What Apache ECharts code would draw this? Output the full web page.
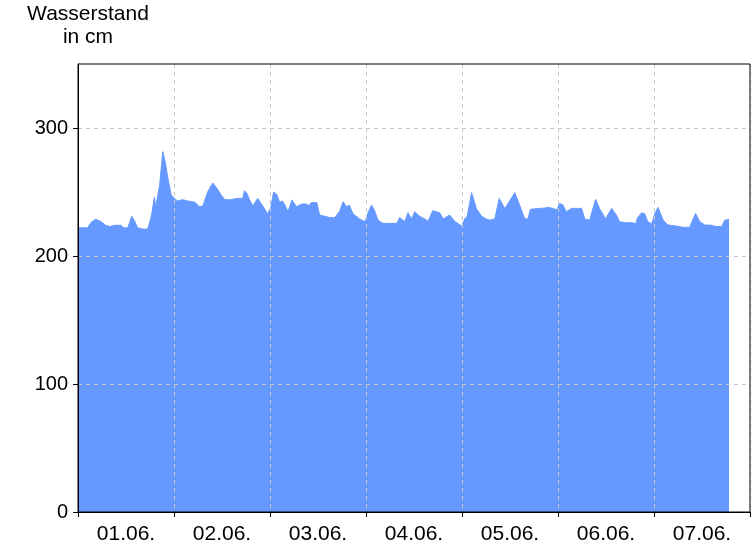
<!DOCTYPE html>
<html>
<head>
<meta charset="utf-8">
<script src="https://cdn.jsdelivr.net/npm/echarts@6/dist/echarts.min.js"></script>
<style>
html,body{margin:0;padding:0;background:#fff;}
#chart{width:756px;height:546px;}
</style>
</head>
<body>
<div id="chart"></div>
<script>
// Day labels (categories)
const dayLabels = ['01.06.', '02.06.', '03.06.', '04.06.', '05.06.', '06.06.', '07.06.'];
// Y tick values
const yTicks = [0, 100, 200, 300];
// Time in hours since 01.06. 00:00
const hours = [
  0, 1.4, 2.4, 3.2, 4.4, 5.7, 6.9, 7.9, 9.2, 10.7, 11.4, 12.4, 12.9, 13.4, 14.2, 14.9,
  15.4, 16.4, 17.4, 17.9, 18.4, 18.9, 19.1, 19.4, 19.9, 20.4, 21.2, 21.9, 22.4, 23.3,
  24.1, 24.9, 26.2, 27.4, 29.2, 30.4, 31.2, 32.4, 33.7, 34.7, 35.8, 36.7, 38.2, 39.7,
  41.2, 41.6, 42.2, 42.9, 43.7, 44.9, 46.2, 47.4, 48.2, 48.9, 49.7, 50.4, 51.1, 51.7,
  52.5, 53.5, 54.6, 55.9, 57.2, 57.5, 58.4, 59.7, 60.4, 61.7, 62.9, 64.2, 64.6, 65.4,
  66.3, 67.1, 67.8, 68.8, 69.2, 70.4, 71.7, 72.4, 73.4, 74.2, 75.0, 76.2, 77.9, 79.7,
  80.4, 81.7, 82.5, 83.4, 84.2, 85.4, 86.7, 87.5, 88.7, 90.4, 91.3, 92.9, 94.2, 95.9,
  96.7, 97.3, 98.4, 99.6, 100.9, 102.1, 102.9, 104.2, 105.3, 106.7, 107.9, 109.2, 110.4,
  111.7, 112.5, 113.1, 115.4, 116.7, 117.4, 118.7, 119.7, 120.4, 121.2, 122.1, 123.4,
  125.9, 126.7, 127.9, 129.4, 130.4, 131.9, 133.4, 134.6, 135.4, 137.1, 138.7, 139.4,
  139.9, 140.9, 141.7, 142.4, 143.4, 144.2, 145.0, 146.3, 147.5, 149.6, 151.2, 152.9,
  154.4, 155.4, 156.7, 158.4, 159.4, 160.9, 161.7, 162.75
];
// Water level in cm
const levels = [
  222, 222, 222, 226, 228.7, 227, 224, 223, 224, 224, 222, 222, 226, 231, 227, 222,
  221.6, 221, 221, 226, 232, 232, 246, 238, 238, 255, 281.5, 272, 262, 247.6,
  245, 243, 244, 243, 242, 238.5, 239, 250, 257, 253, 247.6, 244, 244, 245,
  245, 251, 249, 244, 239, 245, 239, 233, 238, 250, 248, 242, 243, 240,
  234.6, 243.8, 238.5, 240.6, 240.6, 239, 241.7, 241.7, 232, 231, 230, 230, 229, 235,
  242.4, 238.5, 239.7, 232.8, 233, 229, 226.8, 233, 239.8, 235, 228, 225.5, 225.5, 225.5,
  230, 227, 233.8, 229, 234.6, 231, 229, 227, 235.4, 233.8, 229, 232, 227, 223.4,
  229, 231, 249.5, 237, 231, 229, 228, 229, 245, 237, 243, 249.5, 239.7,
  229, 229, 236.5, 237.2, 237.5, 238, 237.2, 236, 241, 240, 234.6, 237.2,
  237.2, 229, 228, 244.3, 237, 229, 237.2, 232, 226.8, 226, 226, 225,
  230, 233.8, 233, 227, 225, 233, 238, 228, 224.2, 223.4, 222.4, 222.4,
  233.3, 227, 224.2, 224, 223, 223, 228, 228.6
];

const seriesData = hours.map((h, i) => [h, levels[i]]);
const font = 'Liberation Sans, Arial, sans-serif';

const chart = echarts.init(document.getElementById('chart'), null, {renderer: 'canvas'});
chart.setOption({
  animation: false,
  backgroundColor: '#fff',
  grid: {
    left: 78, top: 64, right: 6, bottom: 34, z: 10,
    show: true, borderColor: '#000', borderWidth: 1, backgroundColor: 'transparent'
  },
  graphic: [{
    type: 'text', x: 88, y: 3, z: 20,
    style: {
      text: 'Wasserstand\nin cm', textAlign: 'center',
      font: '21px ' + font, fill: '#000', lineHeight: 23
    }
  }],
  xAxis: [{
    type: 'value', min: 0, max: 168, interval: 24, z: 5,
    axisLine: {show: true, onZero: false, lineStyle: {color: '#000', width: 1}},
    axisTick: {show: true, length: 5, lineStyle: {color: '#000'}},
    axisLabel: {show: false},
    splitLine: {show: true, lineStyle: {color: '#c8c8c8', type: [4, 4], width: 1}}
  }, {
    type: 'category', data: dayLabels, boundaryGap: true, position: 'bottom', z: 5,
    axisLine: {show: false}, axisTick: {show: false}, splitLine: {show: false},
    axisLabel: {show: true, color: '#000', fontSize: 21, fontFamily: font, margin: 12}
  }],
  yAxis: {
    type: 'value', min: 0, max: 350, interval: 100, z: 5,
    axisLine: {show: true, lineStyle: {color: '#000', width: 1}},
    axisTick: {show: true, length: 5, lineStyle: {color: '#000'}, customValues: yTicks},
    axisLabel: {
      color: '#000', fontSize: 20, fontFamily: font, margin: 10, padding: [4, 0, 0, 0],
      customValues: yTicks,
      formatter: v => (yTicks.indexOf(v) >= 0 ? String(v) : '')
    },
    splitLine: {show: true, lineStyle: {color: '#c8c8c8', type: [4, 4], width: 1}}
  },
  series: [{
    type: 'line', xAxisIndex: 0, data: seriesData, showSymbol: false, z: 1,
    lineStyle: {width: 1, color: '#6699ff'},
    areaStyle: {color: '#6699ff', opacity: 1},
    itemStyle: {color: '#6699ff'}
  }]
});
</script>
</body>
</html>
